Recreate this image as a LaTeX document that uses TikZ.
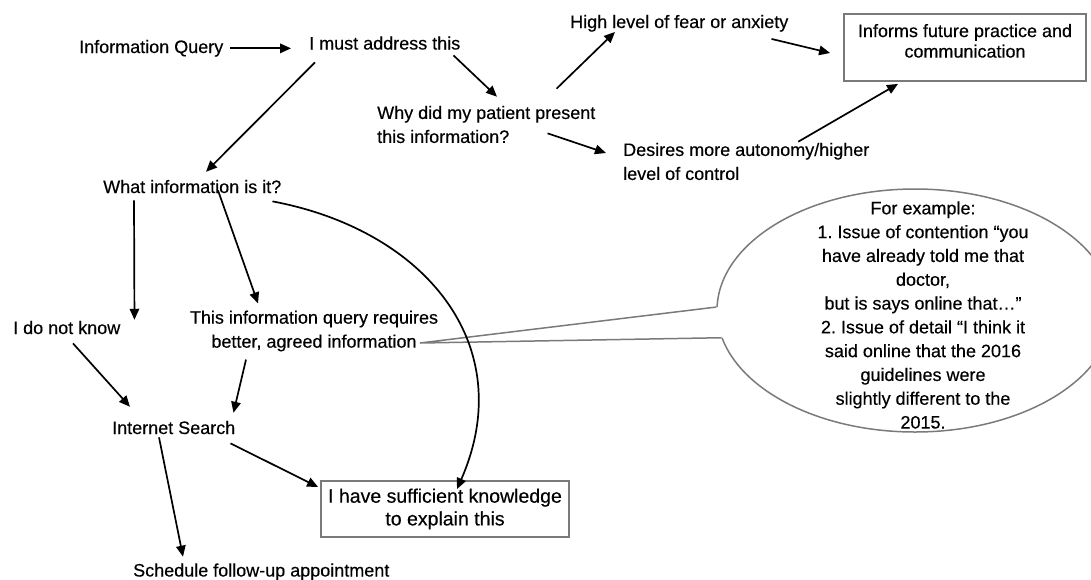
\documentclass[tikz,border=0pt]{standalone}
\usepackage{fontspec}
\setmainfont{Liberation Sans}[FakeBold=0.35]
\usetikzlibrary{arrows.meta,shapes.geometric,calc}
\definecolor{boxgray}{HTML}{7A7A7A}
\begin{document}
\frenchspacing
\begin{tikzpicture}[x=1pt,y=-1pt,
  txt/.style={inner sep=0pt, font=\fontsize{18}{24}\selectfont},
  arr/.style={line width=1.7pt, -{Triangle[length=11pt,width=9.5pt]}},
  box/.style={draw=boxgray, line width=1.8pt, inner sep=0pt, align=center},
  bubbleline/.style={draw=boxgray, line width=1.5pt},
]
\useasboundingbox (0,0) rectangle (1091,579);

% text nodes
\node[txt, anchor=base west] (iq) at (79,53) {Information Query};
\node[txt, anchor=base west] (must) at (309,49.5) {I must address this};
\node[txt, anchor=base west] (fear) at (570,28) {High level of fear or anxiety};
\node[txt, align=left, anchor=west] (why) at (377,124.5) {Why did my patient present\\this information?};
\node[txt, align=left, anchor=west] (des) at (623,161.5) {Desires more autonomy/higher\\level of control};
\node[box, minimum width=242pt, minimum height=67pt, font=\fontsize{18}{20.5}\selectfont] (inf) at (965,47.5)
  {Informs future practice and\\communication\rule[-13.4pt]{0pt}{0pt}};
\node[txt, anchor=base west] (what) at (103,193) {What information is it?};
\node[txt, anchor=base west] (idk) at (13,334) {I do not know};
\node[txt, align=center] (req) at (314,331) {This information query requires\\better, agreed information};
\node[txt, anchor=base west] (inet) at (112,434) {Internet Search};
\node[box, minimum width=248pt, minimum height=56pt, font=\fontsize{19.5}{22.7}\selectfont] (suf) at (445,509)
  {I have sufficient knowledge\\to explain this\rule[-3pt]{0pt}{0pt}};
\node[txt, anchor=base west] (sched) at (133,576.5) {Schedule follow-up appointment};

% speech bubble
\node[bubbleline, ellipse, minimum width=396pt, minimum height=243pt, inner sep=0pt] (bubble) at (915,310.5) {};
\coordinate (tailtip) at (420,343);
\fill[white] (tailtip) -- (bubble.179.5) -- ++(8,0) -- ($(bubble.188.5)+(8,0)$) -- (bubble.188.5) -- cycle;
\draw[bubbleline] (bubble.179.5) -- (tailtip) -- (bubble.188.5);
\node[txt, align=center, font=\fontsize{18}{23.8}\selectfont] (ex) at (923,315)
  {For example:\\1. Issue of contention “you\\have already told me that\\doctor,\\but is says online that…"\\2. Issue of detail “I think it\\said online that the 2016\\guidelines were\\slightly different to the\\2015.};

% connectors
\draw[arr] ($(iq.east)+(7,0)$) -- ($(must.west |- iq.east)+(-18,0)$);
\draw[arr] ($(must.south east)+(-7,5.5)$) -- ($(why.north west)+(120,-9)$);
\draw[arr] ($(must.south west)+(6,12.5)$) -- ($(what.north west)+(103,-8)$);
\draw[arr] ($(why.north east)+(-39,-17)$) -- ($(fear.south west)+(45,0)$);
\draw[arr] ($(fear.south east)+(-17,7)$) -- ($(inf.west)+(-13,5.5)$);
\draw[arr] ($(why.south east)+(-48,-10)$) -- ($(des.west)+(-17,-8.5)$);
\draw[arr] ($(des.north)+(52,-1)$) -- ($(inf.south)+(-67,2)$);
\draw[arr] ($(what.south west)+(31,7)$) -- ($(idk.north east)+(14,-1)$);
\draw[arr] ($(what.south west)+(115,-3)$) -- ($(req.north)+(-56,-7)$);
\draw[arr] ($(what.south east)+(-9,8)$) .. controls (425,230) and (520,345) .. ($(suf.north)+(12,9)$);
\draw[arr] ($(idk.south west)+(60,9)$) -- ($(inet.north west)+(18,-14)$);
\draw[arr] ($(req.south)+(-68,8)$) -- ($(inet.north east)+(-2,-8)$);
\draw[arr] ($(inet.south east)+(-5,9)$) -- ($(suf.west)+(-2,-22)$);
\draw[arr] ($(inet.south west)+(47,3)$) -- ($(sched.north west)+(50,-6.6)$);
\end{tikzpicture}
\end{document}
